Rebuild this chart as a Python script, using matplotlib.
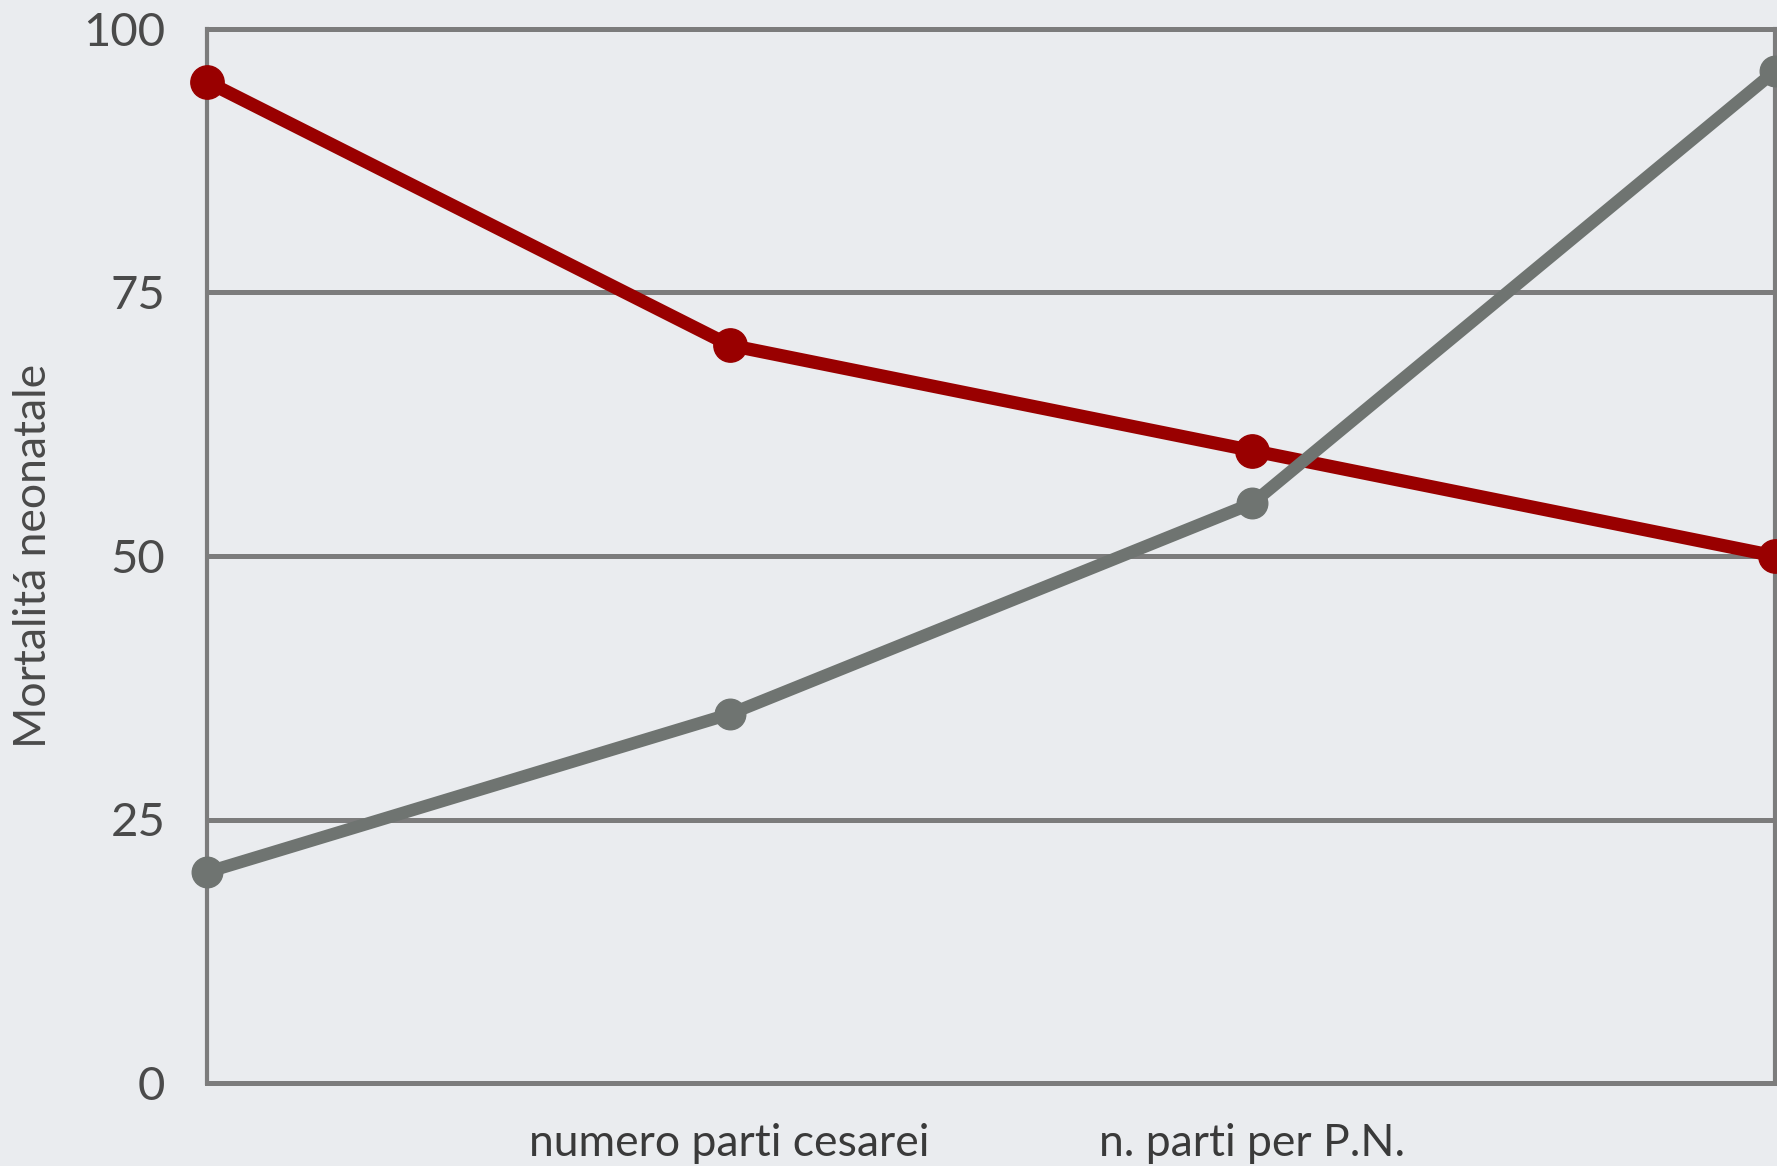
import matplotlib
matplotlib.use("Agg")
import matplotlib.pyplot as plt
import numpy as np

# Data
x_pos = [0, 1, 2, 3]
red_series = [95, 70, 60, 50]
gray_series = [20, 35, 55, 96]
y_ticks = [0, 25, 50, 75, 100]
x_tick_pos = [1, 2]
x_tick_labels = ["numero parti cesarei", "n. parti per P.N."]
y_label = "Mortalitá neonatale"

plt.rcParams['font.family'] = ['Lato', 'DejaVu Sans']

W, H = 1777, 1166
fig = plt.figure(figsize=(W / 100, H / 100), dpi=100)
bg = '#eaecef'
fig.patch.set_facecolor(bg)

left, right, bottom, top = 207, 1775, 1083, 29
ax = fig.add_axes([left / W, (H - bottom) / H, (right - left) / W, (bottom - top) / H])
ax.set_facecolor('none')

grid_col = '#7c7c7c'
for yv in y_ticks[1:-1]:
    ax.axhline(yv, color=grid_col, lw=3.6, zorder=1)

ax.plot(x_pos, red_series, color='#990000', lw=9.5, marker='o', markersize=24,
        solid_capstyle='round', clip_on=False, zorder=3)
ax.plot(x_pos, gray_series, color='#6f7471', lw=9, marker='o', markersize=22,
        solid_capstyle='round', clip_on=False, zorder=3)

ax.set_xlim(0, 3)
ax.set_ylim(0, 100)
ax.set_yticks(y_ticks)
ax.set_yticklabels([str(v) for v in y_ticks], fontsize=34, color='#4a4a4a')
ax.set_xticks(x_tick_pos)
ax.set_xticklabels(x_tick_labels, fontsize=32, color='#3a3a3a')
ax.tick_params(axis='y', length=0, pad=30)
ax.tick_params(axis='x', length=0, pad=29)

for side in ['left', 'right', 'top', 'bottom']:
    ax.spines[side].set_color(grid_col)
for side in ['top', 'bottom']:
    ax.spines[side].set_linewidth(3.6)
for side in ['left', 'right']:
    ax.spines[side].set_linewidth(3.0)

fig.text(34 / W, 1 - 556 / H, y_label, rotation=90, fontsize=32, color='#4a4a4a',
         ha='center', va='center')

fig.savefig("out.png", dpi=100, facecolor=bg)
